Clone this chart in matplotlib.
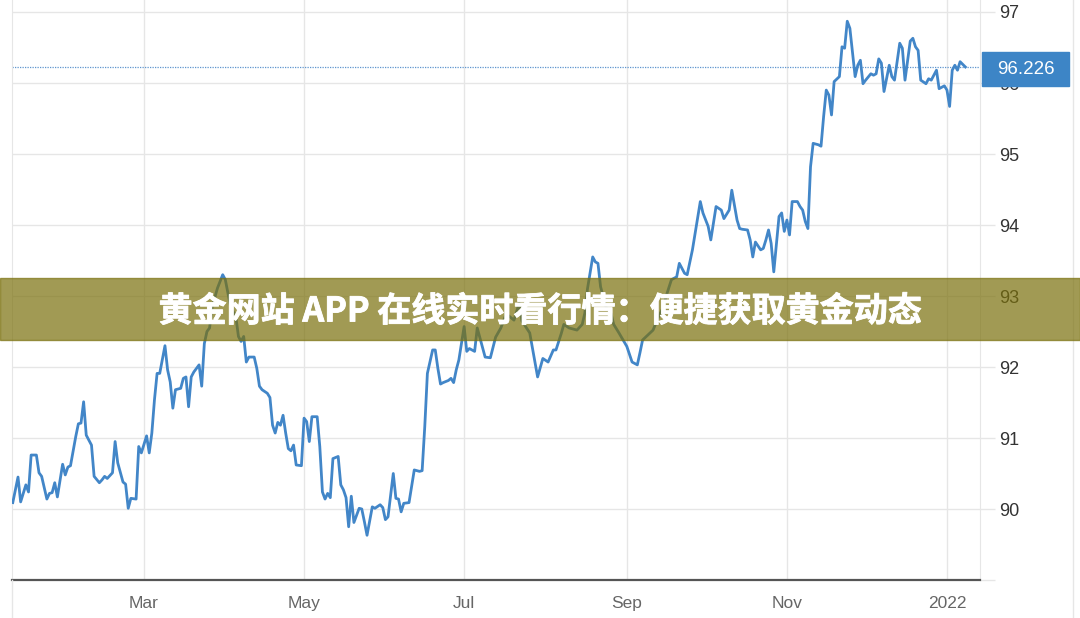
import matplotlib
matplotlib.use("Agg")
import matplotlib.pyplot as plt
import matplotlib.transforms as mtransforms
import matplotlib.patheffects as pe
from matplotlib.patches import Rectangle
from matplotlib.lines import Line2D
import pandas as pd

# US dollar index
dates = [
    "2021-01-10", "2021-01-12", "2021-01-13", "2021-01-15", "2021-01-16", "2021-01-17", "2021-01-19",
    "2021-01-20", "2021-01-21", "2021-01-23", "2021-01-24", "2021-01-25", "2021-01-26", "2021-01-27",
    "2021-01-29", "2021-01-30", "2021-01-31", "2021-02-01", "2021-02-03", "2021-02-04", "2021-02-05",
    "2021-02-06", "2021-02-07", "2021-02-08", "2021-02-09", "2021-02-10", "2021-02-12", "2021-02-13",
    "2021-02-14", "2021-02-15", "2021-02-17", "2021-02-18", "2021-02-19", "2021-02-21", "2021-02-22",
    "2021-02-23", "2021-02-24", "2021-02-26", "2021-02-27", "2021-02-28", "2021-03-02", "2021-03-03",
    "2021-03-04", "2021-03-05", "2021-03-06", "2021-03-07", "2021-03-09", "2021-03-10", "2021-03-11",
    "2021-03-12", "2021-03-13", "2021-03-15", "2021-03-16", "2021-03-17", "2021-03-18", "2021-03-19",
    "2021-03-20", "2021-03-22", "2021-03-23", "2021-03-24", "2021-03-25", "2021-03-26", "2021-03-27",
    "2021-03-29", "2021-03-31", "2021-04-01", "2021-04-03", "2021-04-05", "2021-04-06", "2021-04-07",
    "2021-04-08", "2021-04-09", "2021-04-10", "2021-04-12", "2021-04-13", "2021-04-14", "2021-04-15",
    "2021-04-17", "2021-04-18", "2021-04-19", "2021-04-20", "2021-04-21", "2021-04-22", "2021-04-23",
    "2021-04-24", "2021-04-25", "2021-04-26", "2021-04-27", "2021-04-28", "2021-04-30", "2021-05-01",
    "2021-05-02", "2021-05-03", "2021-05-04", "2021-05-06", "2021-05-07", "2021-05-08", "2021-05-09",
    "2021-05-10", "2021-05-11", "2021-05-12", "2021-05-14", "2021-05-15", "2021-05-16", "2021-05-17",
    "2021-05-18", "2021-05-19", "2021-05-20", "2021-05-22", "2021-05-23", "2021-05-24", "2021-05-25",
    "2021-05-27", "2021-05-28", "2021-05-30", "2021-05-31", "2021-06-01", "2021-06-02", "2021-06-04",
    "2021-06-05", "2021-06-06", "2021-06-07", "2021-06-08", "2021-06-10", "2021-06-12", "2021-06-14",
    "2021-06-15", "2021-06-16", "2021-06-17", "2021-06-19", "2021-06-20", "2021-06-21", "2021-06-22",
    "2021-06-23", "2021-06-25", "2021-06-26", "2021-06-27", "2021-06-28", "2021-06-29", "2021-07-01",
    "2021-07-02", "2021-07-03", "2021-07-05", "2021-07-06", "2021-07-09", "2021-07-11", "2021-07-13",
    "2021-07-15", "2021-07-17", "2021-07-20", "2021-07-22", "2021-07-23", "2021-07-26", "2021-07-29",
    "2021-07-31", "2021-08-02", "2021-08-04", "2021-08-05", "2021-08-07", "2021-08-08", "2021-08-10",
    "2021-08-13", "2021-08-15", "2021-08-16", "2021-08-17", "2021-08-19", "2021-08-20", "2021-08-21",
    "2021-08-22", "2021-08-24", "2021-08-26", "2021-08-27", "2021-08-29", "2021-09-01", "2021-09-03",
    "2021-09-05", "2021-09-06", "2021-09-07", "2021-09-11", "2021-09-13", "2021-09-15", "2021-09-16",
    "2021-09-18", "2021-09-20", "2021-09-21", "2021-09-23", "2021-09-24", "2021-09-26", "2021-09-29",
    "2021-09-30", "2021-10-02", "2021-10-03", "2021-10-05", "2021-10-07", "2021-10-08", "2021-10-10",
    "2021-10-11", "2021-10-13", "2021-10-14", "2021-10-15", "2021-10-17", "2021-10-18", "2021-10-19",
    "2021-10-20", "2021-10-22", "2021-10-23", "2021-10-24", "2021-10-25", "2021-10-26", "2021-10-27",
    "2021-10-29", "2021-10-30", "2021-10-31", "2021-11-01", "2021-11-02", "2021-11-03", "2021-11-05",
    "2021-11-06", "2021-11-07", "2021-11-08", "2021-11-09", "2021-11-10", "2021-11-11", "2021-11-13",
    "2021-11-14", "2021-11-15", "2021-11-16", "2021-11-17", "2021-11-18", "2021-11-19", "2021-11-21",
    "2021-11-22", "2021-11-23", "2021-11-24", "2021-11-25", "2021-11-27", "2021-11-28", "2021-11-29",
    "2021-11-30", "2021-12-01", "2021-12-03", "2021-12-04", "2021-12-05", "2021-12-06", "2021-12-07",
    "2021-12-08", "2021-12-10", "2021-12-11", "2021-12-12", "2021-12-14", "2021-12-15", "2021-12-16",
    "2021-12-18", "2021-12-19", "2021-12-20", "2021-12-21", "2021-12-22", "2021-12-24", "2021-12-25",
    "2021-12-26", "2021-12-28", "2021-12-29", "2021-12-31", "2022-01-01", "2022-01-02", "2022-01-03",
    "2022-01-04", "2022-01-05", "2022-01-06", "2022-01-08",
]
values = [
    90.09, 90.45, 90.10, 90.34, 90.24, 90.76, 90.76,
    90.51, 90.46, 90.14, 90.22, 90.23, 90.37, 90.17,
    90.63, 90.48, 90.59, 90.61, 91.02, 91.20, 91.21,
    91.51, 91.04, 90.97, 90.90, 90.46, 90.37, 90.41,
    90.46, 90.43, 90.51, 90.95, 90.65, 90.38, 90.35,
    90.01, 90.15, 90.14, 90.88, 90.79, 91.03, 90.79,
    91.07, 91.54, 91.91, 91.91, 92.30, 91.96, 91.79,
    91.42, 91.68, 91.70, 91.84, 91.86, 91.44, 91.86,
    91.93, 92.03, 91.73, 92.33, 92.50, 92.55, 92.85,
    93.11, 93.30, 93.23, 92.85, 92.71, 92.43, 92.36,
    92.43, 92.07, 92.14, 92.14, 91.98, 91.73, 91.68,
    91.63, 91.57, 91.18, 91.07, 91.22, 91.18, 91.32,
    91.07, 90.85, 90.82, 90.90, 90.62, 90.61, 91.28,
    91.23, 90.95, 91.30, 91.30, 90.88, 90.24, 90.14,
    90.22, 90.16, 90.71, 90.74, 90.34, 90.27, 90.16,
    89.75, 90.18, 89.81, 90.01, 90.00, 89.82, 89.63,
    90.03, 90.01, 90.06, 90.02, 89.85, 89.89, 90.50,
    90.15, 90.14, 89.96, 90.08, 90.09, 90.55, 90.53,
    90.54, 91.16, 91.91, 92.24, 92.24, 91.98, 91.76,
    91.78, 91.81, 91.84, 91.78, 91.96, 92.10, 92.57,
    92.22, 92.26, 92.22, 92.55, 92.14, 92.13, 92.42,
    92.55, 92.75, 92.66, 92.90, 92.65, 92.48, 91.86,
    92.12, 92.07, 92.24, 92.24, 92.47, 92.60, 92.55,
    92.52, 92.60, 92.76, 93.10, 93.55, 93.48, 93.46,
    93.13, 92.85, 92.75, 92.60, 92.48, 92.29, 92.07,
    92.03, 92.20, 92.38, 92.52, 92.70, 92.85, 93.00,
    93.23, 93.27, 93.46, 93.32, 93.30, 93.65, 94.33,
    94.17, 93.98, 93.79, 94.26, 94.21, 94.09, 94.21,
    94.49, 94.07, 93.95, 93.94, 93.93, 93.79, 93.55,
    93.76, 93.65, 93.67, 93.79, 93.93, 93.74, 93.34,
    94.12, 94.17, 93.91, 94.07, 93.86, 94.33, 94.33,
    94.26, 94.21, 94.05, 93.95, 94.82, 95.15, 95.13,
    95.11, 95.53, 95.90, 95.83, 95.55, 96.02, 96.09,
    96.51, 96.49, 96.87, 96.77, 96.09, 96.25, 96.32,
    95.99, 96.04, 96.13, 96.11, 96.13, 96.34, 96.28,
    95.88, 96.25, 96.09, 96.04, 96.56, 96.49, 96.04,
    96.59, 96.63, 96.51, 96.46, 96.04, 95.99, 96.06,
    96.04, 96.18, 95.92, 95.96, 95.90, 95.67, 96.18,
    96.25, 96.18, 96.30, 96.226,
]
last_value = 96.226

month_ticks = ["2021-03-01", "2021-05-01", "2021-07-01", "2021-09-01", "2021-11-01", "2022-01-01"]
month_labels = ["Mar", "May", "Jul", "Sep", "Nov", "2022"]
y_ticks = [89, 90, 91, 92, 93, 94, 95, 96, 97]
y_labels = ["", "90", "91", "92", "93", "94", "95", "96", "97"]

title = "黄金网站 APP 在线实时看行情：便捷获取黄金动态"

line_color = "#4286c8"
grid_color = "#e6e6e6"


def main():
    plt.rcParams['font.family'] = ['Liberation Sans', 'DejaVu Sans']

    fig = plt.figure(figsize=(10.8, 6.18), dpi=100)
    ax = fig.add_axes([12 / 1080, 1 - 580 / 618, 968 / 1080, 580 / 618])

    x = pd.to_datetime(dates)
    ax.plot(x, values, color=line_color, lw=2.0, solid_joinstyle="round", zorder=3)

    ax.axhline(last_value, color="#5f95cf", lw=0.9, ls=(0, (1, 1)), zorder=2)

    ax.set_xlim(pd.Timestamp("2021-01-09 17:00"), pd.Timestamp("2022-01-13 14:00"))
    ax.set_ylim(89, 89 + 580 / 71)

    ax.set_xticks(pd.to_datetime(month_ticks))
    ax.set_xticklabels(month_labels)
    ax.tick_params(axis="x", length=0, pad=11.5, labelsize=12.5, labelcolor="#666666")

    ax.yaxis.tick_right()
    ax.set_yticks(y_ticks)
    ax.set_yticklabels(y_labels)
    ax.tick_params(axis="y", length=11, width=1, color=grid_color, pad=3,
                   labelsize=13, labelcolor="#333333")

    ax.grid(True, color=grid_color, lw=1)
    ax.set_axisbelow(True)
    for side in ["left", "right", "top"]:
        ax.spines[side].set_color(grid_color)
    ax.spines["top"].set_visible(False)
    ax.spines["bottom"].set_color("#555555")
    ax.spines["bottom"].set_linewidth(1.6)

    # current value box on the right axis
    trans = mtransforms.blended_transform_factory(ax.transAxes, ax.transData)
    box_h = 34 / 71
    ax.add_patch(Rectangle((1.002, last_value - box_h / 2 - 0.03), 0.09, box_h, transform=trans,
                           color="#3d85c6", clip_on=False, zorder=5))
    ax.text(1.047, last_value - 0.03, f"{last_value:.3f}", transform=trans, ha="center", va="center",
            color="white", fontsize=13.5, zorder=6, clip_on=False)

    # extra frame lines
    fig.add_artist(Line2D([1073 / 1080, 1073 / 1080], [0, 1], color=grid_color, lw=1))
    fig.add_artist(Line2D([12 / 1080, 12 / 1080], [0, 1 - 580 / 618], color=grid_color, lw=1))

    # banner
    fig.patches.append(Rectangle((0, 1 - 340 / 618), 1, 62 / 618, transform=fig.transFigure,
                                 color="#7a700c", alpha=0.7, zorder=10))
    fig.text(0.5, 1 - 311 / 618, title, ha="center", va="center", color="white",
             fontsize=24.5, fontweight="bold", family=['Noto Sans CJK SC', 'DejaVu Sans'],
             zorder=11, path_effects=[pe.withStroke(linewidth=0.6, foreground="white")])

    fig.savefig("out.png", dpi=100)


if __name__ == "__main__":
    main()
